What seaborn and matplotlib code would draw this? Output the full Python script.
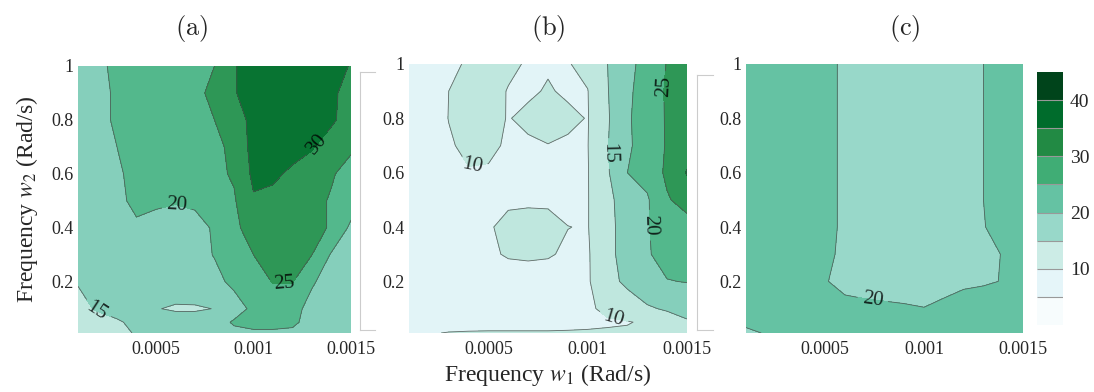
"""
Mapas de contorno de la respuesta en frecuencia w1 / w2, tres casos (a), (b), (c)
con una barra de color común.
"""

import numpy as np
import matplotlib
matplotlib.use("Agg")
import matplotlib.pyplot as plt
import seaborn as sns


# DATOS
w1 = [0.0001, 0.0002, 0.0003, 0.0004, 0.0005, 0.0006, 0.0007, 0.0008,
      0.0009, 0.0010, 0.0011, 0.0012, 0.0013, 0.0014, 0.0015]
w2 = [1.0, 0.9, 0.8, 0.7, 0.6, 0.5, 0.4, 0.3, 0.2, 0.1, 0.05, 0.01]

z_a = [
    [17, 19, 21, 22, 22.5, 23, 24, 25, 29.5, 33, 34, 34.5, 34.5, 33, 29.5],
    [17, 19, 20.5, 22, 22.5, 23, 24, 26, 29.5, 33, 34, 34, 33.5, 31, 28],
    [17, 19, 20.5, 21.5, 22, 22.5, 23.5, 25, 27.5, 31.5, 33.5, 33.5, 33, 31, 27],
    [17, 18.5, 20, 21, 21.5, 22, 23, 23.5, 26.5, 31.5, 32.5, 32, 30.5, 27, 25.8],
    [16.5, 18, 19.5, 21, 21.5, 22, 23, 24, 25.5, 31, 31, 29, 27, 25.5, 23],
    [16, 17, 18.5, 21.5, 20.7, 20.3, 20.8, 22, 24.5, 29.5, 28.5, 27.5, 26.5, 24.5, 22.5],
    [16, 17, 17.5, 19, 18.5, 18, 18.5, 20.5, 24, 27, 28, 27.5, 26.5, 24.5, 19],
    [15.5, 16.5, 17, 17.5, 18, 18, 18.5, 20.2, 23, 25, 27, 27, 25, 19.5, 18],
    [15.3, 16.5, 17, 17.5, 17.5, 17.5, 18, 18.8, 21, 23, 25.2, 25.2, 20.5, 18, 17],
    [13.5, 15.5, 16.5, 16, 15.2, 14.5, 14.5, 15.1, 18, 21, 22, 21.5, 18.5, 17, 16.5],
    [12, 13, 14.5, 16, 17, 17, 17, 18, 20.5, 22, 22, 21, 18, 17.5, 17],
    [11, 12.5, 14, 15.3, 16.5, 16.5, 17, 18, 19, 19, 19, 19, 18, 17.5, 17],
]

z_b = [
    [6.5, 7, 8.5, 10.8, 11, 10.8, 9.6, 9.5, 9.8, 11, 15, 18.5, 22, 25.2, 28],
    [7, 7.5, 10, 11.5, 11.5, 9.8, 9.3, 10.4, 9.3, 9.9, 14.8, 19, 22.5, 25.5, 28],
    [7, 7.5, 10.1, 11.5, 11.3, 9.8, 11, 11.5, 11, 9.8, 14.5, 19.5, 22, 25.5, 28],
    [7, 7.5, 9.5, 11, 10.8, 9.5, 9.3, 9.9, 9.3, 9.9, 14.8, 19.5, 21.5, 25.5, 28],
    [7, 7.5, 8.5, 9.7, 9.6, 8.5, 8.5, 8.5, 8.5, 9.8, 14.5, 20, 21.5, 26, 30.3],
    [7, 7.5, 8, 8.5, 9, 9.5, 9.5, 9.5, 9, 9.8, 14, 17, 19.5, 24.5, 27],
    [7, 7.5, 8, 8.5, 9.7, 10.8, 11.2, 11, 10.05, 9.8, 14, 16.5, 19.8, 21.5, 23],
    [7, 7.5, 8, 8.5, 9.5, 10.3, 10.5, 10.3, 9.5, 9.5, 14, 16.5, 19.5, 22, 23],
    [6.5, 7, 7.5, 8, 8.5, 8.5, 8.5, 8.5, 8.5, 9.5, 13.5, 16, 18, 19.8, 20.2],
    [6, 6.5, 7, 7.5, 8, 8, 8, 8, 8.5, 9.3, 11, 12.5, 14.5, 15.5, 16],
    [6, 6.5, 7, 7.5, 8, 8, 8, 8, 8.5, 9, 9.5, 9.8, 10.5, 13, 14.7],
    [8, 9.5, 10.3, 10.5, 10.5, 10.5, 10.5, 10.5, 10.5, 10.5, 10.5, 10.5, 11, 12.5, 14],
]

z_c = [
    [23, 22.5, 22, 21.5, 20.8, 19.5, 19, 18.5, 18.5, 18.5, 19, 19.5, 20, 21, 22],
    [23, 22.5, 22, 21.5, 20.8, 19.5, 19, 18.5, 18.5, 18.5, 19, 19.5, 20, 21, 22],
    [23, 22.5, 22, 21.5, 20.8, 19.5, 19, 18.6, 18.5, 18.6, 19, 19.5, 20, 21, 22],
    [23, 22.5, 22, 21.5, 20.8, 19.5, 19, 18.6, 18.6, 18.6, 19, 19.5, 20, 21, 22],
    [23, 22.5, 22, 21.5, 20.8, 19.5, 19, 18.7, 18.6, 18.7, 19, 19.5, 20, 21, 22],
    [23, 22.5, 22, 21.5, 20.8, 19.5, 19, 18.7, 18.7, 18.7, 19, 19.5, 20, 21, 22],
    [23, 22.5, 22, 21.5, 20.8, 19.5, 19, 18.5, 18.5, 18.5, 19, 19.5, 19.9, 20.8, 22],
    [23, 22.5, 22, 21.5, 20.5, 19.5, 19, 18.8, 18.8, 18.8, 19, 19.2, 19.4, 20.1, 21.5],
    [22.5, 22, 21.5, 21, 20.1, 19.5, 19.3, 19.2, 19.1, 19, 19.2, 19.5, 19.7, 20.1, 21],
    [22, 22, 21.5, 21.5, 21, 20.5, 20.4, 20.3, 20.2, 20.05, 20.5, 21.2, 21.5, 21.5, 22],
    [21, 21.5, 21.5, 21.5, 21.5, 21.5, 21.5, 21.5, 21.5, 21.5, 21.5, 21.5, 21.5, 21.5, 21.5],
    [19, 20.3, 20.5, 20.5, 20.5, 20.5, 20.5, 20.5, 20.5, 20.5, 20.8, 21, 21, 21, 21],
]

niveles = [2.5, 5, 10, 15, 20, 25, 30, 35, 40, 42.5]
paneles = ["(a)", "(b)", "(c)"]

xticks = [0.0005, 0.001, 0.0015]
xtick_labels = ["0.0005", "0.001", "0.0015"]
yticks = [0.2, 0.4, 0.6, 0.8, 1.0]
ytick_labels = ["0.2", "0.4", "0.6", "0.8", "1"]
cbar_ticks = [10, 20, 30, 40]

# posiciones de las etiquetas de contorno (w1, w2)
etiquetas_a = [(0.000197, 0.094), (0.000608, 0.49), (0.001155, 0.193), (0.001334, 0.707)]
etiquetas_b = [(0.000423, 0.603), (0.00113, 0.069), (0.00113, 0.671),
               (0.00134, 0.407), (0.001408, 0.916)]
etiquetas_c = [(0.000743, 0.145)]


# ESTILO
sns.set_theme(style="white")
plt.rcParams["font.family"] = ["Liberation Serif", "DejaVu Serif"]
plt.rcParams["mathtext.fontset"] = "stix"

cmap = plt.get_cmap("BuGn")
niv = np.array(niveles)
medios = 0.5 * (niv[:-1] + niv[1:])
colores_ab = [cmap(float(np.clip((m - 2.5) / 35.5, 0, 1))) for m in medios]
colores_c = [cmap(i / 8) for i in range(len(medios))]

X, Y = np.meshgrid(w1, w2)

fig = plt.figure(figsize=(10.94, 3.92), dpi=100)
W, H = 1094, 392

cajas = [
    [78 / W, 59 / H, 273 / W, 267 / H],
    [409 / W, 59 / H, 278 / W, 269 / H],
    [746 / W, 59 / H, 277 / W, 269 / H],
]
datos = [z_a, z_b, z_c]
colores = [colores_ab, colores_ab, colores_c]
etiquetas = [etiquetas_a, etiquetas_b, etiquetas_c]
titulos_x = [192, 548, 905]

for i in range(3):
    ax = fig.add_axes(cajas[i])
    Z = np.array(datos[i])
    cf = ax.contourf(X, Y, Z, levels=niveles, colors=colores[i])
    cl = ax.contour(X, Y, Z, levels=niveles, colors="0.3", linewidths=0.6, alpha=0.8)
    ax.clabel(cl, manual=etiquetas[i], fmt="%d", inline=True, fontsize=15, colors="black")

    ax.set_xlim(0.0001, 0.0015)
    ax.set_ylim(0.01, 1.0)
    ax.set_xticks(xticks, labels=xtick_labels)
    ax.set_yticks(yticks, labels=ytick_labels)
    ax.tick_params(length=0, labelsize=13)
    ax.tick_params(axis="x", pad=6)
    ax.tick_params(axis="y", pad=3)
    for s in ax.spines.values():
        s.set_visible(False)

    fig.text(titulos_x[i] / W, 1 - 28 / H, r"$\mathrm{" + paneles[i] + "}$",
             math_fontfamily="cm", fontsize=19, ha="center", va="center")

    if i == 0:
        ax.set_ylabel("Frequency $w_2$ (Rad/s)", fontsize=17, labelpad=8)
    if i == 1:
        ax.set_xlabel("Frequency $w_1$ (Rad/s)", fontsize=17, labelpad=3)
    if i == 2:
        cf_c = cf

# barra de color común
cax = fig.add_axes([1037 / W, 67 / H, 26 / W, 253 / H])
cbar = fig.colorbar(cf_c, cax=cax, ticks=cbar_ticks)
cbar.outline.set_visible(False)
cbar.ax.tick_params(length=0, labelsize=14, pad=5)
cbar.ax.hlines(niveles[1:-1], 0, 1, colors="0.6", linewidths=0.8)

# marcos grises sueltos entre paneles
for caja in [[360 / W, 62 / H, 15 / W, 258 / H], [697 / W, 62 / H, 16 / W, 255 / H]]:
    m = fig.add_axes(caja)
    m.set_xticks([])
    m.set_yticks([])
    m.patch.set_alpha(0)
    m.spines["right"].set_visible(False)
    for lado in ["left", "top", "bottom"]:
        m.spines[lado].set_color("#cccccc")
        m.spines[lado].set_linewidth(0.8)

plt.savefig("out.png", dpi=100)
